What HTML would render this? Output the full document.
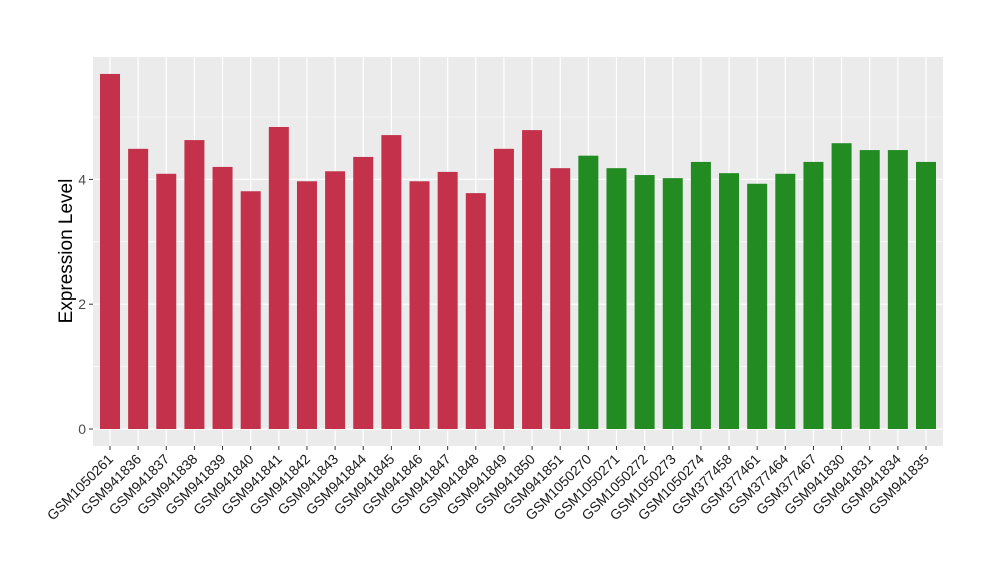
<!DOCTYPE html>
<html><head><meta charset="utf-8"><style>
body{margin:0;background:#fff;}
svg text{font-family:"Liberation Sans",Arial,sans-serif;}
</style></head><body>
<svg id="chart" width="1000" height="580" xmlns="http://www.w3.org/2000/svg">
<rect x="93" y="57" width="850" height="389" fill="#ebebeb"/>
<g id="grid"></g><g id="bars"></g><g id="axes"></g>
<text transform="translate(72,251) rotate(-90)" text-anchor="middle" font-size="19" fill="#000">Expression Level</text>
</svg>
<script>
const categories=["GSM1050261","GSM941836","GSM941837","GSM941838","GSM941839","GSM941840","GSM941841","GSM941842","GSM941843","GSM941844","GSM941845","GSM941846","GSM941847","GSM941848","GSM941849","GSM941850","GSM941851","GSM1050270","GSM1050271","GSM1050272","GSM1050273","GSM1050274","GSM377458","GSM377461","GSM377464","GSM377467","GSM941830","GSM941831","GSM941834","GSM941835"];
const values=[5.69,4.49,4.09,4.63,4.2,3.81,4.84,3.97,4.13,4.36,4.71,3.97,4.12,3.78,4.49,4.79,4.18,4.38,4.18,4.07,4.02,4.28,4.1,3.93,4.09,4.28,4.58,4.47,4.47,4.28];
const groups=[0,0,0,0,0,0,0,0,0,0,0,0,0,0,0,0,0,1,1,1,1,1,1,1,1,1,1,1,1,1];
const yTicks=[0,2,4];
const colors=["#c3314a","#228b22"];
const NS="http://www.w3.org/2000/svg";
const x0=110,step=(926-110)/(categories.length-1),bw=20;
const xs=i=>x0+i*step;
const ys=v=>429-v*62.4;
function mk(t,a,p){const e=document.createElementNS(NS,t);for(const k in a)e.setAttribute(k,a[k]);p.appendChild(e);return e;}
const grid=document.getElementById('grid'),bars=document.getElementById('bars'),axes=document.getElementById('axes');
[1,3,5].forEach(v=>{const l=mk('line',{x1:93,x2:943,y1:ys(v),y2:ys(v),stroke:'#fff','stroke-width':0.6},grid);

});
yTicks.forEach(v=>{const l=mk('line',{x1:93,x2:943,y1:ys(v),y2:ys(v),stroke:'#fff','stroke-width':1.2},grid);


const t=mk('line',{x1:89,x2:93,y1:ys(v),y2:ys(v),stroke:'#333','stroke-width':1},axes);


const tx=mk('text',{x:86,y:ys(v)+5,'text-anchor':'end','font-size':14,fill:'#4d4d4d'},axes);
tx.textContent=v;

});
categories.forEach((c,i)=>{const x=xs(i);
const g=mk('line',{x1:x,x2:x,y1:57,y2:446,stroke:'#fff','stroke-width':1.2},grid);


const b=mk('rect',{x:x-bw/2,y:ys(values[i]),width:bw,height:ys(0)-ys(values[i]),fill:colors[groups[i]]},bars);


const t=mk('line',{x1:x,x2:x,y1:446,y2:450,stroke:'#333','stroke-width':1},axes);


const tx=mk('text',{transform:`translate(${x+4},${460}) rotate(-45)`,'text-anchor':'end','font-size':14,fill:'#1a1a1a'},axes);
tx.textContent=c;

});
</script>
</body></html>
